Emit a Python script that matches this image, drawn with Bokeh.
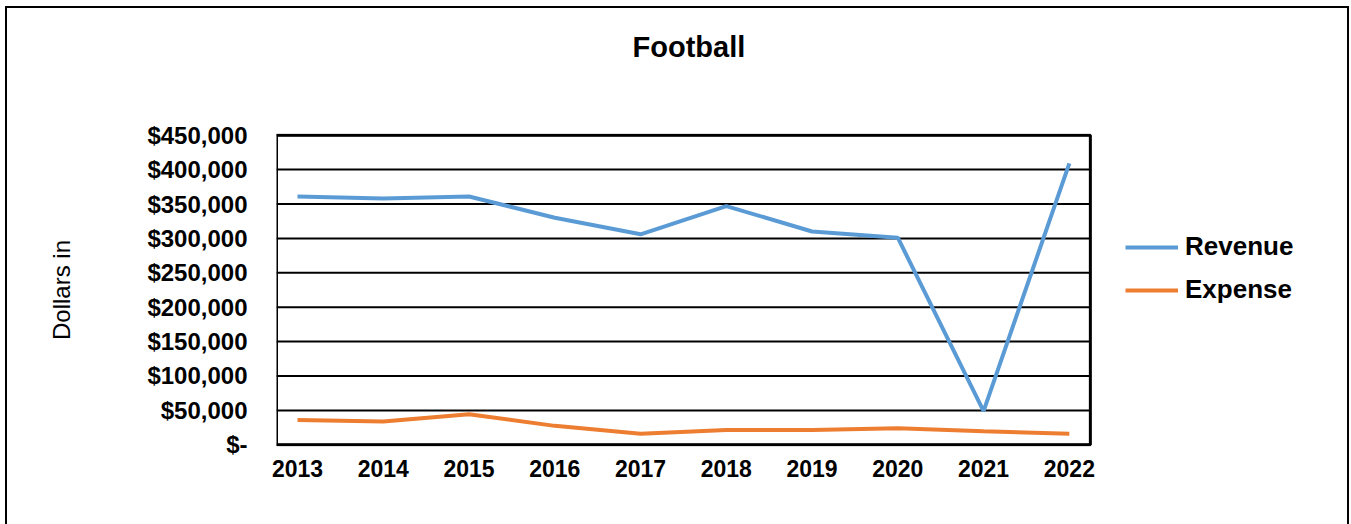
from bokeh.plotting import figure
from bokeh.models import Range1d, FixedTicker, Legend, LegendItem, Title
from bokeh.embed import file_html
from bokeh.resources import INLINE

# ---- data ----
years = [2013, 2014, 2015, 2016, 2017, 2018, 2019, 2020, 2021, 2022]
revenue = [361000, 358000, 361000, 330000, 306000, 347000, 310000, 301000, 49000, 409000]
expense = [36000, 34000, 44500, 27500, 16000, 21500, 21500, 24000, 19500, 16000]
y_ticks = [0, 50000, 100000, 150000, 200000, 250000, 300000, 350000, 400000, 450000]
y_tick_labels = ["$-", "$50,000", "$100,000", "$150,000", "$200,000", "$250,000",
                 "$300,000", "$350,000", "$400,000", "$450,000"]
series_names = ["Revenue", "Expense"]
series_colors = ["#5B9BD5", "#ED7D31"]
title_text = "Football"
y_label = "Dollars in"

FONT = "Liberation Sans"

# plot-area extent (in data units); frame extends right to hold the legend
X_MIN, X_MAX = 2012.755, 2022.245
Y_MIN, Y_MAX = 0, 450000
X_FRAME_END = 2025.29

p = figure(width=1344, height=530, output_backend="svg", toolbar_location=None,
           x_range=Range1d(X_MIN, X_FRAME_END), y_range=Range1d(Y_MIN - 2500, Y_MAX + 2500),
           min_border_left=269, min_border_right=0, min_border_top=125,
           min_border_bottom=92, title=None)
p.styles = {"border": "2px solid black", "margin-left": "5px", "margin-top": "6px"}

# spacer (closest to frame) then real title (outermost)
spacer = Title(text=" ", text_font=FONT, text_font_size="29px", standoff=18)
p.add_layout(spacer, "above")
main_title = Title(text=title_text, align="left", offset=356, text_font=FONT,
                   text_font_size="29px", text_font_style="bold",
                   text_color="black", standoff=37)
p.add_layout(main_title, "above")

p.outline_line_color = None
p.xgrid.grid_line_color = None
p.ygrid.grid_line_color = None

# plot area gridlines and box
p.segment(x0=[X_MIN] * len(y_ticks), x1=[X_MAX] * len(y_ticks), y0=y_ticks, y1=y_ticks,
          line_color="black", line_width=2)
p.quad(left=[X_MIN], right=[X_MAX], bottom=[Y_MIN], top=[Y_MAX],
       fill_color=None, line_color="black", line_width=3)

# axes
p.xaxis.ticker = FixedTicker(ticks=years)
p.yaxis.ticker = FixedTicker(ticks=y_ticks)
p.yaxis.major_label_overrides = {t: l for t, l in zip(y_ticks, y_tick_labels)}
for ax in (p.xaxis[0], p.yaxis[0]):
    ax.axis_line_color = None
    ax.major_tick_line_color = None
    ax.minor_tick_line_color = None
    ax.major_tick_out = 0
    ax.major_tick_in = 0
    ax.major_label_text_font = FONT
    ax.major_label_text_font_style = "bold"
    ax.major_label_text_color = "black"
p.xaxis.major_label_text_font_size = "23px"
p.yaxis.major_label_text_font_size = "24px"
p.xaxis.major_label_standoff = 13
p.yaxis.major_label_standoff = 29
p.yaxis.axis_label = y_label
p.yaxis.axis_label_text_font = FONT
p.yaxis.axis_label_text_font_size = "24px"
p.yaxis.axis_label_text_font_style = "normal"
p.yaxis.axis_label_text_color = "black"
p.yaxis.axis_label_standoff = 69

r1 = p.line(years, revenue, line_color=series_colors[0], line_width=4)
r2 = p.line(years, expense, line_color=series_colors[1], line_width=4)

legend = Legend(items=[LegendItem(label=series_names[0], renderers=[r1]),
                       LegendItem(label=series_names[1], renderers=[r2])],
                location=(849, 141), orientation="vertical")
legend.label_text_font = FONT
legend.label_text_font_size = "26px"
legend.label_text_font_style = "bold"
legend.label_text_color = "black"
legend.glyph_width = 53
legend.label_standoff = 7
legend.spacing = 12
legend.padding = 0
legend.margin = 0
legend.border_line_alpha = 0
legend.background_fill_alpha = 0
p.add_layout(legend, "center")

open("out.html", "w").write(file_html(p, INLINE))
